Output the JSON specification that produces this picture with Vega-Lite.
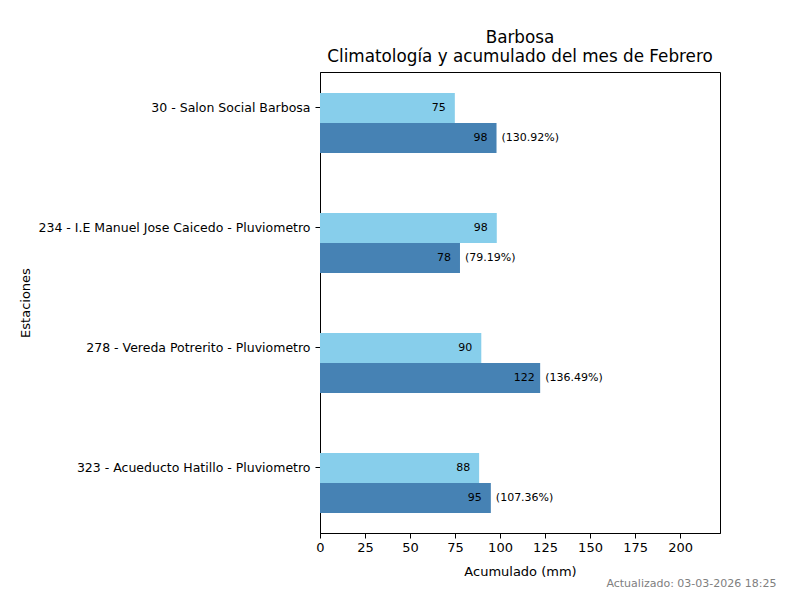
{
  "$schema": "https://vega.github.io/schema/vega-lite/v6.json",
  "padding": {"left": 18, "top": 29, "right": 5, "bottom": 5},
  "background": "white",
  "title": {
    "text": "Actualizado: 03-03-2026 18:25",
    "orient": "bottom",
    "anchor": "end",
    "dx": 56,
    "offset": -1,
    "fontSize": 11,
    "fontWeight": "normal",
    "color": "#808080",
    "font": "DejaVu Sans"
  },
  "vconcat": [
    {
      "width": 400,
      "height": 461,
      "title": {
        "text": ["Barbosa", "Climatología y acumulado del mes de Febrero"],
        "anchor": "middle",
        "fontSize": 16.8,
        "fontWeight": "normal",
        "color": "black",
        "offset": 6,
        "lineHeight": 19
      },
      "data": {
        "values": [
          {"estacion": "30 - Salon Social Barbosa", "serie": "Climatología", "valor": 74.9, "pct": ""},
          {"estacion": "30 - Salon Social Barbosa", "serie": "Acumulado", "valor": 98.06, "pct": "(130.92%)"},
          {"estacion": "234 - I.E Manuel Jose Caicedo - Pluviometro", "serie": "Climatología", "valor": 98.2, "pct": ""},
          {"estacion": "234 - I.E Manuel Jose Caicedo - Pluviometro", "serie": "Acumulado", "valor": 77.76, "pct": "(79.19%)"},
          {"estacion": "278 - Vereda Potrerito - Pluviometro", "serie": "Climatología", "valor": 89.6, "pct": ""},
          {"estacion": "278 - Vereda Potrerito - Pluviometro", "serie": "Acumulado", "valor": 122.3, "pct": "(136.49%)"},
          {"estacion": "323 - Acueducto Hatillo - Pluviometro", "serie": "Climatología", "valor": 88.4, "pct": ""},
          {"estacion": "323 - Acueducto Hatillo - Pluviometro", "serie": "Acumulado", "valor": 94.9, "pct": "(107.36%)"}
        ]
      },
      "encoding": {
        "y": {
          "field": "estacion",
          "type": "nominal",
          "sort": null,
          "title": "Estaciones",
          "scale": {"paddingInner": 0.5, "paddingOuter": 0.1708, "align": 0.146},
          "axis": {"titleX": -288, "labelLimit": 500, "labelFontSize": 12.5, "labelPadding": 5}
        },
        "yOffset": {
          "field": "serie",
          "type": "nominal",
          "sort": ["Climatología", "Acumulado"],
          "scale": {"range": [15, 75]}
        },
        "x": {
          "field": "valor",
          "type": "quantitative",
          "title": "Acumulado (mm)",
          "scale": {"domain": [0, 222.2], "nice": false, "zero": true},
          "axis": {"values": [0, 25, 50, 75, 100, 125, 150, 175, 200], "titlePadding": 11, "labelFlush": false}
        }
      },
      "layer": [
        {
          "mark": {"type": "bar"},
          "encoding": {
            "color": {
              "field": "serie",
              "type": "nominal",
              "scale": {"domain": ["Climatología", "Acumulado"], "range": ["#87CEEB", "#4682B4"]},
              "legend": null
            }
          }
        },
        {
          "mark": {"type": "text", "align": "center", "baseline": "middle", "dx": -16, "fontSize": 11, "color": "black"},
          "encoding": {
            "text": {"field": "valor", "type": "quantitative", "format": ".0f"}
          }
        },
        {
          "transform": [{"filter": "datum.pct != ''"}],
          "mark": {"type": "text", "align": "left", "baseline": "middle", "dx": 5, "fontSize": 11, "color": "black"},
          "encoding": {
            "text": {"field": "pct", "type": "nominal"}
          }
        }
      ]
    }
  ],
  "config": {
    "font": "DejaVu Sans",
    "view": {"stroke": "black", "strokeWidth": 1},
    "axis": {
      "grid": false,
      "labelFont": "DejaVu Sans",
      "titleFont": "DejaVu Sans",
      "labelFontSize": 13,
      "titleFontSize": 13,
      "titleFontWeight": "normal",
      "labelColor": "black",
      "titleColor": "black",
      "domainColor": "black",
      "tickColor": "black",
      "tickSize": 5,
      "labelPadding": 3
    },
    "title": {"font": "DejaVu Sans"}
  }
}
